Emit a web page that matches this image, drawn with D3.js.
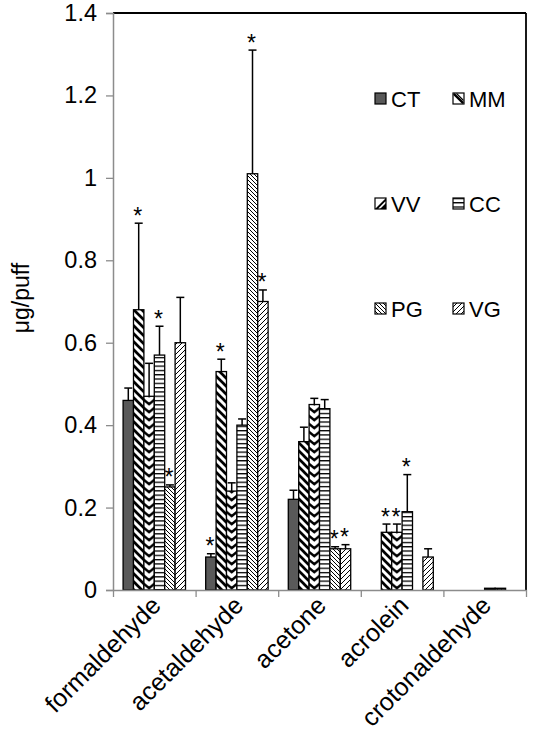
<!DOCTYPE html>
<html>
<head>
<meta charset="utf-8">
<script src="https://cdn.jsdelivr.net/npm/d3@7"></script>
<style>
  html, body { margin: 0; padding: 0; background: #fff; }
  svg { display: block; font-family: Arial, "Liberation Sans", sans-serif; }
</style>
</head>
<body>
<svg id="chart" width="534" height="750"></svg>
<script>
// ---------- data ----------
const categories = ["formaldehyde", "acetaldehyde", "acetone", "acrolein", "crotonaldehyde"];
const seriesNames = ["CT", "MM", "VV", "CC", "PG", "VG"];

const valCT = [0.46, 0.08, 0.22, 0, 0];
const valMM = [0.68, 0.53, 0.36, 0.14, 0];
const valVV = [0.47, 0.24, 0.45, 0.14, 0];
const valCC = [0.57, 0.40, 0.44, 0.19, 0.004];
const valPG = [0.25, 1.01, 0.10, 0, 0.004];
const valVG = [0.60, 0.70, 0.10, 0.08, 0];

const errCT = [0.03, 0.008, 0.022, 0, 0];
const errMM = [0.21, 0.03, 0.035, 0.02, 0];
const errVV = [0.08, 0.02, 0.015, 0.02, 0];
const errCC = [0.07, 0.015, 0.022, 0.09, 0];
const errPG = [0.005, 0.30, 0.005, 0, 0];
const errVG = [0.11, 0.028, 0.01, 0.02, 0];

const sigCT = [0, 1, 0, 0, 0];
const sigMM = [1, 1, 0, 1, 0];
const sigVV = [0, 0, 0, 1, 0];
const sigCC = [1, 0, 0, 1, 0];
const sigPG = [1, 1, 1, 0, 0];
const sigVG = [0, 1, 1, 0, 0];

const yTicks = [0, 0.2, 0.4, 0.6, 0.8, 1.0, 1.2, 1.4];
const yTickLabels = ["0", "0.2", "0.4", "0.6", "0.8", "1", "1.2", "1.4"];
const yLabel = "μg/puff";

const values = [valCT, valMM, valVV, valCC, valPG, valVG];
const errors = [errCT, errMM, errVV, errCC, errPG, errVG];
const sigs = [sigCT, sigMM, sigVV, sigCC, sigPG, sigVG];

// ---------- layout ----------
const plotLeft = 113, plotRight = 526, plotTop = 13, plotBottom = 590;
const svg = d3.select("#chart");
const defs = svg.append("defs");

const x = d3.scaleBand().domain(categories).range([plotLeft, plotRight]).padding(0);
const xs = d3.scaleBand().domain(seriesNames).range([0, x.bandwidth()]).paddingInner(0).paddingOuter(0.97);
const y = d3.scaleLinear().domain([0, 1.4]).range([plotBottom, plotTop]);
const xBound = d3.scaleLinear().domain([0, categories.length]).range([plotLeft, plotRight]);

// ---------- patterns ----------
function mkPattern(id, w, h, draw) {
  const p = defs.append("pattern").attr("id", id).attr("patternUnits", "userSpaceOnUse")
    .attr("width", w).attr("height", h);
  p.append("rect").attr("width", w).attr("height", h).attr("fill", "#fff");
  draw(p);
  return p;
}
// MM: wide downward diagonal stripes
mkPattern("pMM", 8, 8, p => {
  p.append("path").attr("d", "M-2,-2 L10,10 M-2,6 L2,10 M6,-2 L10,2")
    .attr("stroke", "#000").attr("stroke-width", 2.7);
});
// CC: horizontal lines
mkPattern("pCC", 6, 4.3, p => {
  p.append("rect").attr("x", 0).attr("y", 0).attr("width", 6).attr("height", 1.3).attr("fill", "#000");
});
// PG: dense downward diagonal
mkPattern("pPG", 4, 4, p => {
  p.append("path").attr("d", "M-1,-1 L5,5 M-1,3 L1,5 M3,-1 L5,1")
    .attr("stroke", "#000").attr("stroke-width", 1);
});
// VG: upward diagonal
mkPattern("pVG", 5, 5, p => {
  p.append("path").attr("d", "M-1,6 L6,-1 M-1,1 L1,-1 M4,6 L6,4")
    .attr("stroke", "#000").attr("stroke-width", 1);
});
// VV: chevrons, one pattern per bar so that the V sits in the bar
function vvPatternId(i, bx, bw) {
  const id = "pVV" + i;
  const p = defs.append("pattern").attr("id", id).attr("patternUnits", "userSpaceOnUse")
    .attr("x", bx).attr("y", 0).attr("width", bw).attr("height", 8);
  p.append("rect").attr("width", bw).attr("height", 8).attr("fill", "#fff");
  p.append("path").attr("d", `M-1,-1 L${bw/2},${bw/2 - 1} L${bw+1},-1 M-1,7 L${bw/2},${bw/2 + 7} L${bw+1},7`)
    .attr("fill", "none").attr("stroke", "#000").attr("stroke-width", 2.4);
  return id;
}

function fillFor(s, ci, bx, bw) {
  if (s === "CT") return "#595959";
  if (s === "VV") return `url(#${vvPatternId(ci, bx, bw)})`;
  return `url(#p${s})`;
}

// ---------- frame (top & right) ----------
svg.append("line").attr("x1", plotLeft).attr("x2", plotRight).attr("y1", y(1.4)).attr("y2", y(1.4))
  .attr("stroke", "#000").attr("stroke-width", 1.8);
svg.append("line").attr("x1", plotRight).attr("x2", plotRight).attr("y1", y(1.4)).attr("y2", y(0))
  .attr("stroke", "#000").attr("stroke-width", 1.8);

// ---------- bars ----------
const barData = [];
seriesNames.forEach((s, si) => {
  categories.forEach((c, ci) => {
    barData.push({ s, si, c, ci, v: values[si][ci], e: errors[si][ci], sig: sigs[si][ci] });
  });
});

const gBars = svg.append("g");
barData.filter(d => d.v > 0).forEach(d => {
  const bx = x(d.c) + xs(d.s), bw = xs.bandwidth();
  gBars.append("rect")
    .attr("x", bx).attr("y", y(d.v))
    .attr("width", bw).attr("height", y(0) - y(d.v))
    .attr("fill", fillFor(d.s, d.ci, bx, bw))
    .attr("stroke", "#000").attr("stroke-width", d.v < 0.01 ? 1.5 : 1.3);
});

// ---------- error bars ----------
const gErr = svg.append("g").attr("stroke", "#000").attr("stroke-width", 1.5);
barData.filter(d => d.e > 0).forEach(d => {
  const cx = x(d.c) + xs(d.s) + xs.bandwidth() / 2;
  gErr.append("line").attr("x1", cx).attr("x2", cx).attr("y1", y(d.v)).attr("y2", y(d.v + d.e));
  gErr.append("line").attr("x1", cx - 4).attr("x2", cx + 4).attr("y1", y(d.v + d.e)).attr("y2", y(d.v + d.e));
});

// ---------- significance asterisks ----------
svg.append("g").selectAll("text").data(barData.filter(d => d.sig)).join("text")
  .attr("x", d => x(d.c) + xs(d.s) + xs.bandwidth() / 2 - 1)
  .attr("y", d => y(d.v + d.e) + 0.5)
  .attr("text-anchor", "middle")
  .attr("font-size", 23)
  .attr("fill", "#000")
  .text("*");

// ---------- axes ----------
const yAxis = d3.axisLeft(y).tickValues(yTicks).tickFormat((d, i) => yTickLabels[i])
  .tickSize(7).tickPadding(9);
const gy = svg.append("g").attr("transform", `translate(${plotLeft},0)`).call(yAxis);
gy.select(".domain").attr("stroke", "#8c8c8c").attr("stroke-width", 1.5);
gy.selectAll(".tick line").attr("stroke", "#8c8c8c").attr("stroke-width", 1.3);
gy.selectAll(".tick text").attr("font-size", 23.5).attr("fill", "#000")
  .attr("font-family", 'Arial, "Liberation Sans", sans-serif');

const xAxis = d3.axisBottom(xBound).tickValues(d3.range(categories.length + 1)).tickFormat("")
  .tickSize(7).tickSizeOuter(0);
const gx = svg.append("g").attr("transform", `translate(0,${plotBottom})`).call(xAxis);
gx.select(".domain").attr("stroke", "#8c8c8c").attr("stroke-width", 1.5);
gx.selectAll(".tick line").attr("stroke", "#8c8c8c").attr("stroke-width", 1.3);

// category labels, rotated -45
svg.append("g").selectAll("text").data(categories).join("text")
  .attr("transform", d => `translate(${x(d) + x.bandwidth() / 2 + 8},${plotBottom + 17}) rotate(-45)`)
  .attr("text-anchor", "end")
  .attr("font-size", 25)
  .attr("fill", "#000")
  .text(d => d);

// y label
svg.append("text")
  .attr("transform", `translate(29,298) rotate(-90)`)
  .attr("text-anchor", "middle")
  .attr("font-size", 23)
  .attr("fill", "#000")
  .text(yLabel);

// ---------- legend ----------
const lmm = defs.append("pattern").attr("id", "pLegMM").attr("patternUnits", "objectBoundingBox")
  .attr("patternContentUnits", "objectBoundingBox").attr("width", 1).attr("height", 1);
lmm.append("rect").attr("width", 1).attr("height", 1).attr("fill", "#fff");
lmm.append("path").attr("d", "M0,0.15 L0.15,0 L1,0.85 L0.85,1 Z M0.25,0.05 L0.4,0.05 L0.95,0.6 L0.95,0.75 Z").attr("fill", "#000");
const lvv = defs.append("pattern").attr("id", "pLegVV").attr("patternUnits", "objectBoundingBox")
  .attr("patternContentUnits", "objectBoundingBox").attr("width", 1).attr("height", 1);
lvv.append("rect").attr("width", 1).attr("height", 1).attr("fill", "#fff");
lvv.append("path").attr("d", "M1,0 L1,1 L0,1 Z").attr("fill", "#000");
lvv.append("path").attr("d", "M1,0.35 L0.35,1").attr("stroke", "#fff").attr("stroke-width", 0.15);

const legX = [375, 453];
const legY = [99, 204, 309];
const legend = svg.append("g");
seriesNames.forEach((s, i) => {
  const lx = legX[i % 2], ly = legY[Math.floor(i / 2)];
  let f;
  if (s === "CT") f = "#595959";
  else if (s === "VV") f = "url(#pLegVV)";
  else if (s === "MM") f = "url(#pLegMM)";
  else f = `url(#p${s})`;
  legend.append("rect").attr("x", lx).attr("y", ly - 6).attr("width", 11).attr("height", 11)
    .attr("fill", f).attr("stroke", "#000").attr("stroke-width", 1.2);
  legend.append("text").attr("x", lx + 16).attr("y", ly + 7.5)
    .attr("font-size", 22).attr("fill", "#000").text(s);
});
</script>
</body>
</html>
